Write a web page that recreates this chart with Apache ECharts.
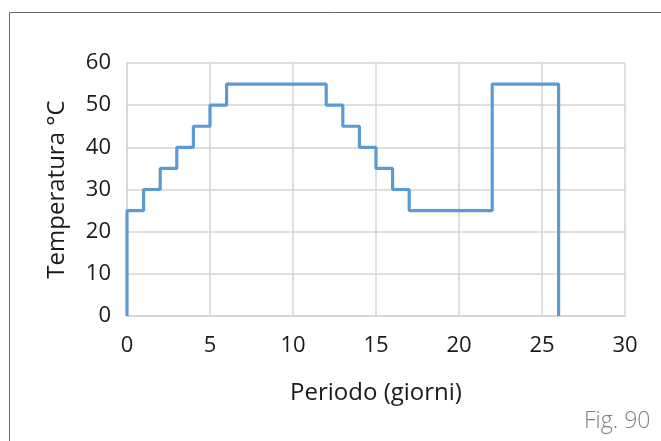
<!DOCTYPE html>
<html>
<head>
<meta charset="utf-8">
<script src="https://cdn.jsdelivr.net/npm/echarts@6/dist/echarts.min.js"></script>
<style>
  html, body { margin: 0; padding: 0; background: #fff; }
  #chart { width: 661px; height: 441px; }
</style>
</head>
<body>
<div id="chart"></div>
<script>
// punti del profilo (step 'end': orizzontale poi verticale)
const days = [0, 0, 1, 2, 3, 4, 5, 6, 12, 13, 14, 15, 16, 17, 22, 26]
const temps = [0, 25, 30, 35, 40, 45, 50, 55, 50, 45, 40, 35, 30, 25, 55, 0]

const xTicks = [0, 5, 10, 15, 20, 25, 30]
const yTicks = [0, 10, 20, 30, 40, 50, 60]

const font = 'Open Sans'
const gridColor = '#d4d4d4'

const chart = echarts.init(document.getElementById('chart'))
chart.setOption({
  animation: false,
  grid: {
    left: 127,
    right: 36,
    top: 63,
    bottom: 125
  },
  graphic: [{
    type: 'rect',
    shape: { x: 9.5, y: 12.5, width: 800, height: 600 },
    style: { fill: 'none', stroke: '#666', lineWidth: 1 },
    silent: true
  }, {
    type: 'text',
    left: 584,
    top: 410,
    style: { text: 'Fig. 90', font: '300 23px "Open Sans"', fill: '#808080' }
  }],
  xAxis: {
    type: 'value',
    min: xTicks[0],
    max: xTicks[xTicks.length - 1],
    interval: 5,
    name: 'Periodo (giorni)',
    nameLocation: 'middle',
    nameGap: 65,
    nameTextStyle: { fontFamily: font, fontSize: 24, color: '#1a1a1a' },
    axisLine: { show: true, lineStyle: { color: gridColor, width: 1.5 } },
    axisTick: { show: false },
    axisLabel: { fontFamily: font, fontSize: 22, color: '#1a1a1a', margin: 19 },
    splitLine: { show: true, lineStyle: { color: gridColor, width: 1.5 } }
  },
  yAxis: {
    type: 'value',
    min: yTicks[0],
    max: yTicks[yTicks.length - 1],
    interval: 10,
    name: 'Temperatura °C',
    nameLocation: 'middle',
    nameGap: 58,
    nameTextStyle: { fontFamily: font, fontSize: 24, color: '#1a1a1a' },
    axisLine: { show: true, lineStyle: { color: gridColor, width: 1.5 } },
    axisTick: { show: false },
    axisLabel: { fontFamily: font, fontSize: 22, color: '#1a1a1a', margin: 16 },
    splitLine: { show: true, lineStyle: { color: gridColor, width: 1.5 } }
  },
  series: [{
    type: 'line',
    step: 'end',
    data: days.map((d, i) => [d, temps[i]]),
    showSymbol: false,
    lineStyle: { color: '#5b9bd5', width: 3.2 },
    z: 5
  }]
})
</script>
</body>
</html>
